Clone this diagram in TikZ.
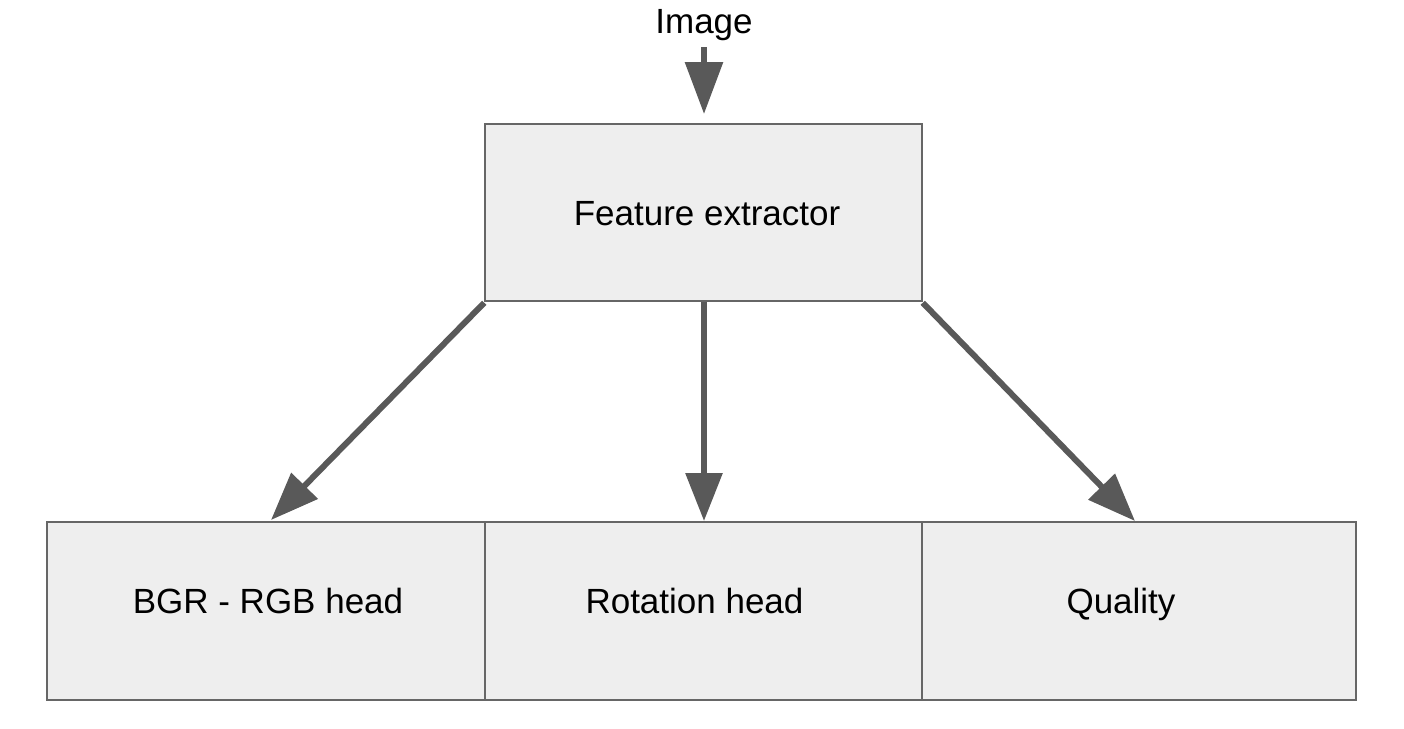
\documentclass[tikz,border=0pt]{standalone}
\usepackage{fontspec}
\setmainfont{Liberation Sans}
\usetikzlibrary{arrows.meta}
\definecolor{boxfill}{HTML}{EEEEEE}
\definecolor{boxline}{HTML}{666666}
\definecolor{arrowc}{HTML}{595959}
\begin{document}
\begin{tikzpicture}[x=1pt,y=-1pt,
  txt/.style={font=\fontsize{35}{42}\selectfont,inner sep=0pt},
  blk/.style={draw=boxline,line width=1.5pt,fill=boxfill},
  conn/.style={draw=arrowc,line width=6pt,-{Triangle[length=48pt,width=36pt]}}]
\useasboundingbox (0,0) rectangle (1404,728);
\node[txt] (img) at (704,25) {Image};
\node[blk,minimum width=437pt,minimum height=177pt] (fe) at (703.5,212.5) {};
\node[blk,minimum width=438pt,minimum height=178pt] (bgr) at (266,611) {};
\node[blk,minimum width=437pt,minimum height=178pt] (rot) at (703.5,611) {};
\node[blk,minimum width=434pt,minimum height=178pt] (qual) at (1139,611) {};
\node[txt] (fet) at ([xshift=3.5pt,yshift=-1pt]fe.center) {Feature extractor};
\node[txt] (bgrt) at ([xshift=2pt,yshift=10pt]bgr.center) {BGR - RGB head};
\node[txt] (rott) at ([xshift=-9pt,yshift=10pt]rot.center) {Rotation head};
\node[txt] (qualt) at ([xshift=-18pt,yshift=7pt]qual.center) {Quality};
\coordinate (imgtop) at (704,47);
\coordinate (imgtip) at (704,114);
\coordinate (bgrtip) at (271,520);
\coordinate (rottip) at (704,521);
\coordinate (qualtip) at (1135,521);
\draw[conn,-{Triangle[length=52pt,width=37pt]}] (imgtop) -- (imgtip);
\draw[conn] (fe.south west) ++(0,1) -- (bgrtip);
\draw[conn] (fe.south -| rottip) -- (rottip);
\draw[conn] (fe.south east) ++(0,1) -- (qualtip);
\end{tikzpicture}
\end{document}
